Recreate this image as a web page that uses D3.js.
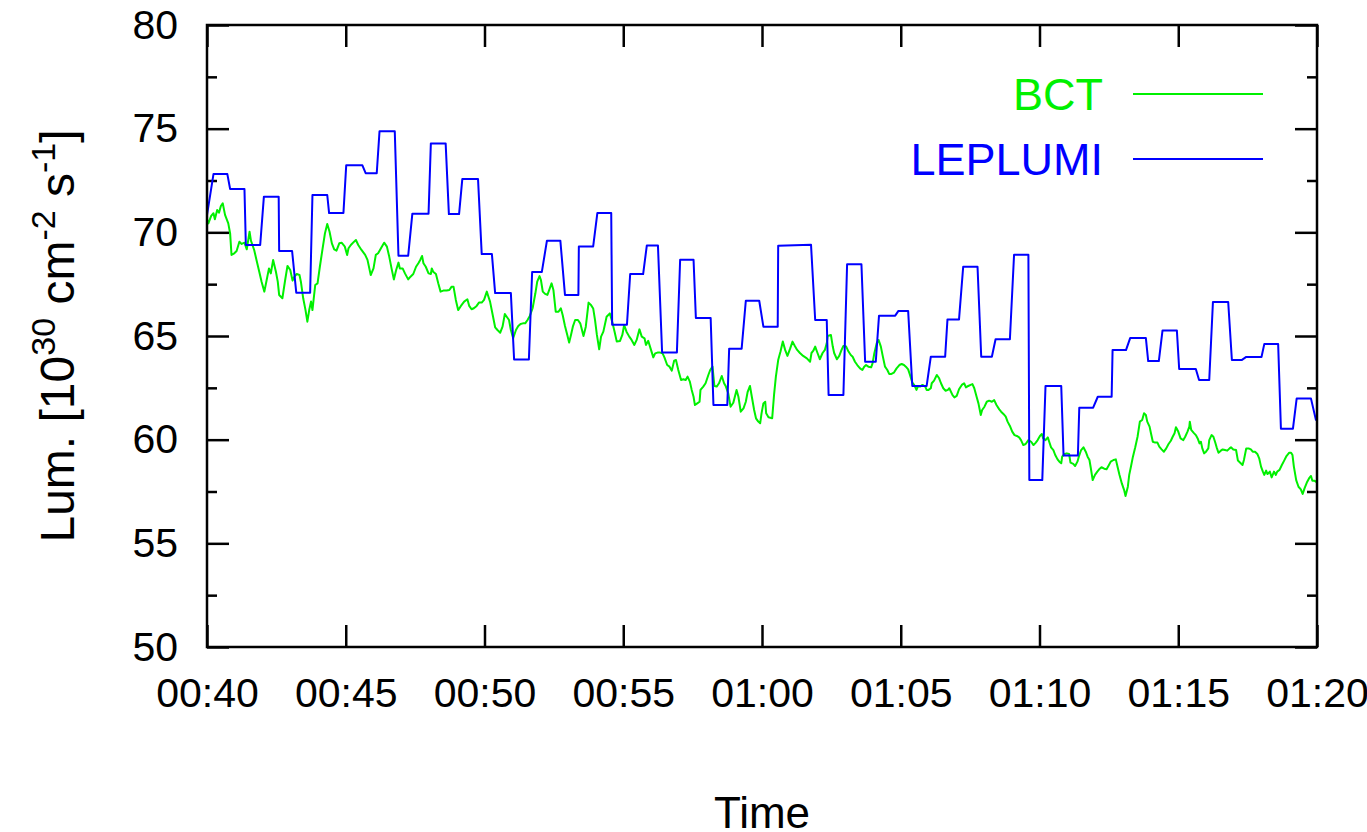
<!DOCTYPE html>
<html lang="en">
<head>
<meta charset="utf-8" />
<title>BCT vs LEPLUMI luminosity</title>
<script src="https://cdnjs.cloudflare.com/ajax/libs/d3/7.8.5/d3.min.js"></script>
<style>
  body { margin: 0; background: #fff; }
</style>
</head>
<body>
<svg id="chart" width="1367" height="832"></svg>
<script>
// time window and axis values
const startTime = "00:40";
const endTime = "01:20";
const yMajorTicks = [50, 55, 60, 65, 70, 75, 80];
const yMinorTicks = [52.5, 57.5, 62.5, 67.5, 72.5, 77.5];
const seriesNames = ["BCT", "LEPLUMI"];
const seriesColors = ["#00f000", "#0000ff"];

// BCT: seconds after 00:40 and luminosity
const bctSec = [0,3,9,14,17,22,26,30,34,39,46,50,53,59,64,70,75,81,86,92,95,102,107,113,118,124,129,134,138,143,149,153,156,163,169,174,180,185,189,194,200,203,208,213,217,221,225,228,234,239,244,250,255,260,265,270,275,280,286,291,295,298,303,306,311,318,322,327,334,342,347,354,360,365,370,378,383,389,394,399,404,
409,414,417,423,428,435,440,446,452,457,461,465,468,473,479,484,486,489,495,500,505,511,518,524,529,533,538,543,549,556,563,567,572,577,583,588,594,599,605,608,612,617,623,628,634,639,644,648,653,657,662,668,673,678,683,688,693,698,704,710,714,719,722,726,731,736,740,745,749,754,760,765,769,774,779,783,787,791,796,802,807,
809,814,819,825,830,835,839,843,848,852,857,864,871,877,882,886,893,898,902,907,913,918,924,929,935,940,946,949,954,960,965,969,974,980,985,989,995,1000,1005,1010,1014,1019,1025,1030,1035,1039,1044,1048,1052,1055,1060,1065,1067,1073,1078,1084,1088,1093,1097,1102,1107,1113,1118,1122,1127,1132,1138,1145,1149,1154,1160,1165,1169,1174,1178,1183,1187,1192,1196,1199,1203,1207,
1209,1214,1222,1226,1230,1235,1240,1245,1250,1255,1261,1266,1271,1276,1282,1289,1297,1304,1307,1311,1315,1320,1325,1331,1336,1340,1342,1349,1353,1356,1362,1367,1372,1376,1382,1387,1392,1396,1401,1406,1412,1417,1421,1425,1430,1436,1439,1443,1448,1452,1457,1461,1466,1471,1475,1480,1485,1491,1497,1502,1507,1511,1516,1520,1525,1529,1534,1537,1542,1547,1553,1556,1560,1565,1567,1572,1578,1583,1587,1592,1597,1602,1605,
1612,1616,1621,1626,1632,1637,1641,1646,1651,1655,1659,1664,1668,1673,1676,1681,1686,1691,1697,1702,1707,1713,1717,1722,1727,1731,1736,1741,1746,1751,1756,1760,1765,1770,1776,1782,1787,1792,1796,1801,1805,1808,1813,1818,1821,1825,1830,1834,1839,1843,1847,1849,1854,1859,1864,1867,1873,1877,1882,1885,1890,1895,1900,1904,1908,1911,1915,1920,1925,1929,1934,1940,1945,1949,1954,1960,1965,1969,1973,1978,1983,1986,1991,1994,1998,2002,2007,
2012,2017,2022,2026,2030,2033,2038,2041,2045,2050,2055,2059,2064,2069,2074,2079,2084,2088,2092,2095,2100,2105,2111,2115,2120,2124,2125,2128,2133,2138,2142,2146,2149,2152,2156,2160,2165,2167,2172,2176,2180,2183,2187,2192,2196,2201,2206,2211,2214,2219,2225,2229,2234,2239,2242,2247,2252,2257,2261,2266,2271,2275,2279,2283,2286,2290,2293,2298,2302,2307,2311,2314,2319,2324,2329,2334,2340,2344,2347,2350,2355,2360,2365,2369,2373,2378,2383,2387,2390,2394,2398,2400];
const bctLum = [70.63,70.43,70.79,70.92,70.63,71.08,70.95,71.27,71.40,70.84,70.43,69.95,68.91,68.99,69.10,69.55,69.44,69.50,69.18,70.03,69.60,69.15,68.67,68.10,67.62,67.14,67.70,68.26,68.02,68.67,68.10,67.62,66.98,66.82,67.70,68.38,68.18,67.67,67.86,67.99,67.94,67.62,66.82,66.25,65.69,66.25,66.66,66.25,67.46,67.54,68.34,69.23,69.95,70.40,70.03,69.47,69.18,69.12,69.47,69.50,69.39,69.31,68.91,69.23,69.39,69.55,69.63,69.39,69.15,68.91,68.67,67.94,68.26,68.91,68.99,69.31,69.50,69.31,68.83,68.26,67.73,
68.18,68.54,68.26,68.26,68.02,67.73,67.86,67.99,68.34,68.51,68.67,68.86,68.51,68.34,68.02,67.99,68.26,68.10,67.99,67.54,67.14,67.19,67.19,67.22,67.38,67.38,66.74,66.25,66.45,66.66,66.77,66.45,66.29,66.34,66.45,66.61,66.61,66.74,67.14,66.93,66.66,66.10,65.42,65.29,65.16,65.45,66.06,65.93,65.77,65.29,64.89,65.29,65.48,65.58,65.61,65.61,65.77,65.97,66.34,67.06,67.62,67.89,67.70,67.14,67.03,66.98,67.22,67.54,67.22,66.17,66.17,66.34,66.01,65.48,65.05,64.68,65.05,65.45,65.77,65.77,65.61,
65.45,65.00,65.45,66.61,66.50,66.33,65.77,65.05,64.36,64.97,65.21,65.93,66.09,65.61,65.13,64.73,64.76,65.05,65.53,65.21,64.97,64.81,64.57,64.81,65.32,64.97,64.89,64.57,64.77,64.33,63.97,64.16,64.20,64.20,64.16,63.97,63.60,63.52,63.33,63.81,63.84,63.36,62.88,62.91,62.88,63.04,62.80,62.40,62.07,61.67,61.75,61.83,62.40,62.56,62.72,63.12,63.36,63.52,62.59,62.56,62.72,63.07,62.72,62.56,62.23,61.59,61.78,62.40,62.07,61.35,61.51,61.83,62.31,62.59,62.07,61.43,61.03,60.87,60.79,61.27,61.75,61.83,
61.27,61.08,61.03,62.15,63.04,63.84,64.25,64.73,64.33,64.04,64.40,64.73,64.52,64.33,64.18,64.04,63.92,63.76,64.18,64.29,64.49,64.18,63.88,64.18,64.33,64.65,65.00,65.05,64.49,64.18,63.88,64.04,64.33,64.52,64.49,64.25,64.08,64.00,63.76,63.60,63.44,63.36,63.52,63.60,63.52,63.49,63.68,64.18,64.65,64.81,64.49,64.04,63.52,63.36,63.17,63.17,63.23,63.44,63.60,63.65,63.60,63.52,63.39,63.12,62.75,62.64,62.40,62.56,62.56,62.64,62.56,62.40,62.40,62.48,62.72,62.85,63.12,62.96,62.72,62.48,62.36,62.40,62.48,
62.15,62.04,62.11,62.43,62.64,62.72,62.52,62.59,62.64,62.68,62.48,62.07,61.75,61.19,61.43,61.59,61.83,61.88,61.83,61.91,61.67,61.46,61.35,61.24,61.11,60.87,60.66,60.39,60.22,60.18,60.11,59.98,59.74,59.79,59.98,59.90,59.74,59.86,59.98,60.18,60.27,60.06,59.98,60.11,59.90,59.63,59.50,59.26,59.05,58.94,58.86,59.18,59.31,59.34,59.31,58.89,58.83,58.73,58.94,59.18,59.50,59.63,59.42,59.18,59.02,58.62,58.05,58.30,58.46,58.57,58.67,58.60,58.57,58.73,58.94,59.02,59.05,58.67,58.30,57.89,57.57,57.28,57.73,58.30,58.73,59.18,59.63,
60.14,60.87,60.95,61.27,61.19,60.87,60.63,60.31,59.90,59.86,59.86,59.66,59.53,59.42,59.58,59.79,59.95,60.14,60.31,60.60,60.39,60.06,59.98,60.14,60.39,60.63,60.87,60.47,60.34,60.22,60.06,59.82,59.90,59.58,59.34,59.42,59.58,59.98,60.22,60.14,59.86,59.63,59.37,59.47,59.53,59.50,59.47,59.58,59.63,59.53,59.50,58.99,58.89,58.78,59.02,59.58,59.58,59.53,59.42,59.42,59.31,59.10,58.70,58.46,58.30,58.51,58.34,58.46,58.18,58.46,58.30,58.46,58.54,58.78,58.99,59.21,59.37,59.37,59.26,58.70,58.05,57.73,57.60,57.38,57.65,57.93,58.14,58.25,58.02,58.02,57.97,58.05];

// LEPLUMI: seconds after 00:40 and luminosity
const lepSec = [0,14,44,50,81,84,115,123,155,156,184,193,223,228,260,264,295,301,336,343,367,373,406,414,435,444,479,484,516,523,545,552,586,594,616,623,657,664,696,703,724,735,764,774,803,804,835,844,874,876,908,915,943,951,975,984,1016,1023,1052,1057,1089,1095,1125,1129,1156,1165,1194,1203,1234,1235,1306,1315,1340,1344,1376,1384,1415,1423,1446,1453,1488,1495,1516,1525,1556,1565,1596,1601,1626,1635,1666,1674,1697,1705,1736,1745,1776,1778,1806,1813,1847,1852,1883,1886,1916,1926,1956,1958,1987,1996,2030,2035,2058,2066,2097,2102,2138,2145,2167,2175,2208,2216,2237,2247,2280,2286,2316,2322,2348,2356,2387,2398];
const lepLum = [70.83,72.81,72.81,72.09,72.09,69.39,69.39,71.72,71.72,69.10,69.10,67.09,67.09,71.80,71.80,70.93,70.93,73.23,73.23,72.85,72.85,74.87,74.87,68.87,68.87,70.90,70.90,74.29,74.29,70.88,70.88,72.57,72.57,68.95,68.95,67.07,67.07,63.87,63.87,68.09,68.09,69.60,69.60,66.98,66.98,69.32,69.32,70.93,70.93,65.54,65.54,67.99,67.99,69.37,69.37,64.21,64.21,68.68,68.68,65.87,65.87,61.67,61.67,64.39,64.39,66.70,66.70,65.45,65.45,69.35,69.40,65.77,65.77,62.15,62.15,68.46,68.46,63.76,63.76,65.98,65.98,66.21,66.21,62.59,62.59,64.00,64.00,65.80,65.80,68.34,68.34,64.00,64.00,64.84,64.84,68.92,68.92,58.05,58.05,62.59,62.59,59.24,59.24,61.54,61.54,62.07,62.07,64.32,64.32,64.90,64.90,63.79,63.79,65.27,65.27,63.41,63.41,62.88,62.88,66.64,66.64,63.84,63.84,63.99,63.99,64.61,64.61,60.53,60.53,61.98,61.98,60.92];

const fontStack = "'Liberation Sans', Arial, Helvetica, sans-serif";
const svg = d3.select("#chart").attr("font-family", fontStack);

const margin = { top: 25, right: 50, bottom: 185, left: 207 };
const width = +svg.attr("width");
const height = +svg.attr("height");
const innerWidth = width - margin.left - margin.right;
const innerHeight = height - margin.top - margin.bottom;

const parseTime = d3.timeParse("%H:%M");
const t0 = parseTime(startTime);
const t1 = parseTime(endTime);
const toDate = (s) => new Date(t0.getTime() + s * 1000);

const bct = bctSec.map((s, i) => ({ t: toDate(s), v: bctLum[i] }));
const lep = lepSec.map((s, i) => ({ t: toDate(s), v: lepLum[i] }));

const x = d3.scaleTime().domain([t0, t1]).range([0, innerWidth]);
const y = d3.scaleLinear().domain([50, 80]).range([innerHeight, 0]);

const g = svg.append("g").attr("transform", `translate(${margin.left},${margin.top})`);

const tickFont = 41;
const majorLen = 22, minorLen = 10;
const xTicks = d3.timeMinute.every(5);

// bottom axis with labels
const xAxis = g.append("g")
  .attr("transform", `translate(0,${innerHeight})`)
  .call(d3.axisBottom(x).ticks(xTicks).tickFormat(d3.timeFormat("%H:%M"))
    .tickSize(-majorLen).tickPadding(31));
// top mirror ticks
const xTop = g.append("g")
  .call(d3.axisTop(x).ticks(xTicks).tickSize(-majorLen));

const yAxis = g.append("g")
  .call(d3.axisLeft(y).tickValues(yMajorTicks).tickFormat(d3.format("d"))
    .tickSize(-majorLen).tickPadding(29));
const yMinor = g.append("g")
  .call(d3.axisLeft(y).tickValues(yMinorTicks).tickSize(-minorLen));
const yRight = g.append("g")
  .attr("transform", `translate(${innerWidth},0)`)
  .call(d3.axisRight(y).tickValues(yMajorTicks).tickSize(-majorLen));
const yRightMinor = g.append("g")
  .attr("transform", `translate(${innerWidth},0)`)
  .call(d3.axisRight(y).tickValues(yMinorTicks).tickSize(-minorLen));

// mirror axes carry ticks only
[xTop, yMinor, yRight, yRightMinor].forEach((a) => a.selectAll("text").remove());

[xAxis, xTop, yAxis, yMinor, yRight, yRightMinor].forEach((a) => {
  a.select(".domain").remove();
  a.selectAll(".tick line").attr("stroke", "#000").attr("stroke-width", 2.5);
  a.selectAll("text")
    .attr("fill", "#000")
    .attr("font-size", tickFont)
    .attr("font-family", fontStack);
});

// clip for data lines
g.append("clipPath").attr("id", "plot-clip")
  .append("rect").attr("width", innerWidth).attr("height", innerHeight);

const line = d3.line().x((d) => x(d.t)).y((d) => y(d.v));

const lines = g.append("g").attr("clip-path", "url(#plot-clip)");
lines.append("path").datum(bct)
  .attr("fill", "none").attr("stroke", seriesColors[0]).attr("stroke-width", 2)
  .attr("stroke-linejoin", "round").attr("d", line);
lines.append("path").datum(lep)
  .attr("fill", "none").attr("stroke", seriesColors[1]).attr("stroke-width", 2)
  .attr("stroke-linejoin", "round").attr("d", line);

// frame
g.append("rect")
  .attr("width", innerWidth).attr("height", innerHeight)
  .attr("fill", "none").attr("stroke", "#000").attr("stroke-width", 2.5);

// legend
const legend = g.append("g");
seriesNames.forEach((name, i) => {
  const ly = 69 + i * 65;
  legend.append("text")
    .attr("x", 1103 - margin.left).attr("y", ly)
    .attr("dy", "0.36em")
    .attr("text-anchor", "end")
    .attr("font-size", 45)
    .attr("fill", seriesColors[i])
    .text(name);
  legend.append("line")
    .attr("x1", 1133 - margin.left).attr("x2", 1263 - margin.left)
    .attr("y1", ly).attr("y2", ly)
    .attr("stroke", seriesColors[i]).attr("stroke-width", 2);
});

// axis titles
svg.append("text")
  .attr("x", margin.left + innerWidth / 2).attr("y", 828)
  .attr("text-anchor", "middle")
  .attr("font-size", 44)
  .text("Time");

const yTitle = svg.append("text")
  .attr("transform", `translate(74,${margin.top + innerHeight / 2}) rotate(-90)`)
  .attr("text-anchor", "middle")
  .attr("font-size", 48);
yTitle.append("tspan").text("Lum. [10");
yTitle.append("tspan").attr("dy", -19).attr("font-size", 34).text("30");
yTitle.append("tspan").attr("dy", 19).text(" cm");
yTitle.append("tspan").attr("dy", -19).attr("font-size", 34).text("-2");
yTitle.append("tspan").attr("dy", 19).text(" s");
yTitle.append("tspan").attr("dy", -19).attr("font-size", 34).text("-1");
yTitle.append("tspan").attr("dy", 19).text("]");
</script>
</body>
</html>
